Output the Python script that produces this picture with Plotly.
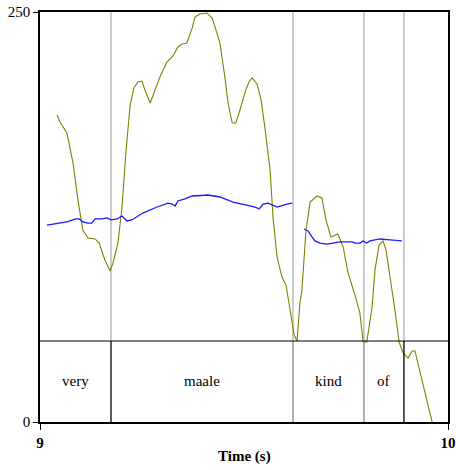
import plotly.graph_objects as go

# Olive curve (time s, value)
olive_t = [9.042, 9.049, 9.066, 9.081, 9.093, 9.105, 9.118, 9.135, 9.145, 9.159, 9.172, 9.179,
           9.191, 9.201, 9.211, 9.221, 9.230, 9.240, 9.250, 9.257, 9.270, 9.282, 9.294, 9.311,
           9.326, 9.338, 9.348, 9.360, 9.373, 9.380, 9.392, 9.409, 9.422, 9.429, 9.441, 9.453,
           9.461, 9.471, 9.480, 9.490, 9.502, 9.512, 9.520, 9.532, 9.542, 9.551, 9.564, 9.571,
           9.581, 9.593, 9.603, 9.613, 9.623, 9.630, 9.637, 9.642, 9.652, 9.662, 9.679, 9.691,
           9.701, 9.713, 9.730, 9.743, 9.755, 9.772, 9.784, 9.792, 9.801, 9.814, 9.821, 9.831,
           9.841, 9.848, 9.858, 9.870, 9.880, 9.890, 9.902, 9.912, 9.919, 9.926, 9.939, 9.951, 9.961]
olive_v = [187.2, 182.9, 176.2, 157.9, 135.4, 117.1, 112.2, 111.6, 109.1, 98.8, 92.1, 97.0,
           109.1, 131.1, 165.9, 193.3, 203.7, 207.3, 207.9, 202.4, 194.5, 202.4, 210.4, 219.5,
           223.2, 228.7, 230.5, 231.1, 240.2, 247.0, 248.8, 249.4, 246.3, 240.9, 231.1, 210.4,
           194.5, 182.3, 182.3, 190.2, 200.6, 207.3, 209.8, 206.1, 196.3, 179.9, 153.7, 125.0,
           100.6, 88.4, 83.5, 68.3, 53.0, 49.4, 72.6, 80.5, 117.1, 134.1, 137.8, 136.6,
           123.2, 112.8, 114.6, 106.7, 90.9, 77.4, 66.5, 48.8, 48.8, 70.1, 92.7, 107.9,
           110.4, 104.9, 88.4, 68.3, 48.8, 42.1, 39.0, 43.3, 43.3, 36.0, 23.8, 11.6, 0.0]

# Blue curve, two segments (None = gap)
blue_t = [9.017, 9.042, 9.066, 9.088, 9.096, 9.105, 9.118, 9.127, 9.135, 9.152, 9.164, 9.174,
          9.189, 9.201, 9.213, 9.225, 9.252, 9.287, 9.314, 9.324, 9.331, 9.338, 9.355, 9.373,
          9.412, 9.441, 9.473, 9.507, 9.527, 9.537, 9.547, 9.559, 9.581, 9.605, 9.618, None,
          9.647, 9.657, 9.667, 9.674, 9.686, 9.703, 9.718, 9.735, 9.752, 9.765, 9.772, 9.784,
          9.792, 9.801, 9.809, 9.833, 9.858, 9.887]
blue_v = [120.1, 121.3, 122.0, 123.8, 123.8, 122.0, 121.3, 121.3, 123.8, 123.8, 124.4, 123.2,
          123.8, 125.6, 122.6, 123.2, 127.4, 131.1, 133.5, 132.9, 131.7, 134.8, 136.0, 137.8,
          138.4, 137.2, 134.1, 132.3, 131.1, 129.9, 132.9, 133.5, 131.1, 132.9, 133.5, None,
          117.7, 116.5, 112.8, 110.4, 109.1, 108.5, 109.1, 109.8, 109.8, 109.8, 109.1, 109.1,
          110.4, 109.1, 110.4, 111.6, 111.0, 110.4]

# Tier
tier_top = 49.4
boundaries = [9.174, 9.620, 9.794, 9.892]
boundary_colors = ["#000000", "#888888", "#888888", "#000000"]
words = ["very", "maale", "kind", "of"]
word_starts = [9.0, 9.174, 9.620, 9.794]
word_ends = [9.174, 9.620, 9.794, 9.892]

x_range = [9, 10]
y_range = [0, 250]

SERIF = "Liberation Serif, Times New Roman, DejaVu Serif, serif"

fig = go.Figure()
fig.add_trace(go.Scatter(x=olive_t, y=olive_v, mode="lines",
                         line=dict(color="#808000", width=1.1), hoverinfo="skip"))
fig.add_trace(go.Scatter(x=blue_t, y=blue_v, mode="lines", connectgaps=False,
                         line=dict(color="#1a1aff", width=1.3), hoverinfo="skip"))

shapes = []
for b, c in zip(boundaries, boundary_colors):
    shapes.append(dict(type="line", xref="x", yref="y", x0=b, x1=b, y0=tier_top, y1=y_range[1],
                       line=dict(color="#999999", width=1), layer="below"))
    shapes.append(dict(type="line", xref="x", yref="y", x0=b, x1=b, y0=y_range[0], y1=tier_top,
                       line=dict(color=c, width=1.3)))
shapes.append(dict(type="line", xref="x", yref="y", x0=x_range[0], x1=x_range[1], y0=tier_top, y1=tier_top,
                   line=dict(color="black", width=1.2)))

annotations = []
for w, s, e in zip(words, word_starts, word_ends):
    annotations.append(dict(x=(s + e) / 2, y=tier_top / 2, xref="x", yref="y", text=w,
                            showarrow=False, font=dict(family=SERIF, size=15, color="black")))
annotations.append(dict(x=0.5, y=-0.085, xref="paper", yref="paper", text="<b>Time (s)</b>",
                        showarrow=False, yanchor="middle",
                        font=dict(family=SERIF, size=15, color="black")))

fig.update_layout(
    width=456, height=470,
    margin=dict(l=40, r=8, t=12, b=48),
    paper_bgcolor="white", plot_bgcolor="white",
    showlegend=False,
    shapes=shapes, annotations=annotations,
    font=dict(family=SERIF, size=15, color="black"),
)
fig.update_xaxes(range=x_range, tickvals=[9, 10], ticktext=["<b>9</b>", "<b>10</b>"],
                 ticks="outside", ticklen=6, tickcolor="black", showgrid=False, zeroline=False,
                 showline=True, linecolor="black", linewidth=1.5, mirror=True, automargin=False,
                 tickfont=dict(family=SERIF, size=15))
fig.update_yaxes(range=y_range, tickvals=[0, 250], ticktext=["0", "250"],
                 ticks="outside", ticklen=5, tickcolor="black", showgrid=False, zeroline=False,
                 showline=True, linecolor="black", linewidth=1.5, mirror=True, automargin=False,
                 tickfont=dict(family=SERIF, size=15))

fig.write_html("out.html", config={"displayModeBar": False},
               post_script="document.body.style.margin='0';document.body.style.overflow='hidden';")
